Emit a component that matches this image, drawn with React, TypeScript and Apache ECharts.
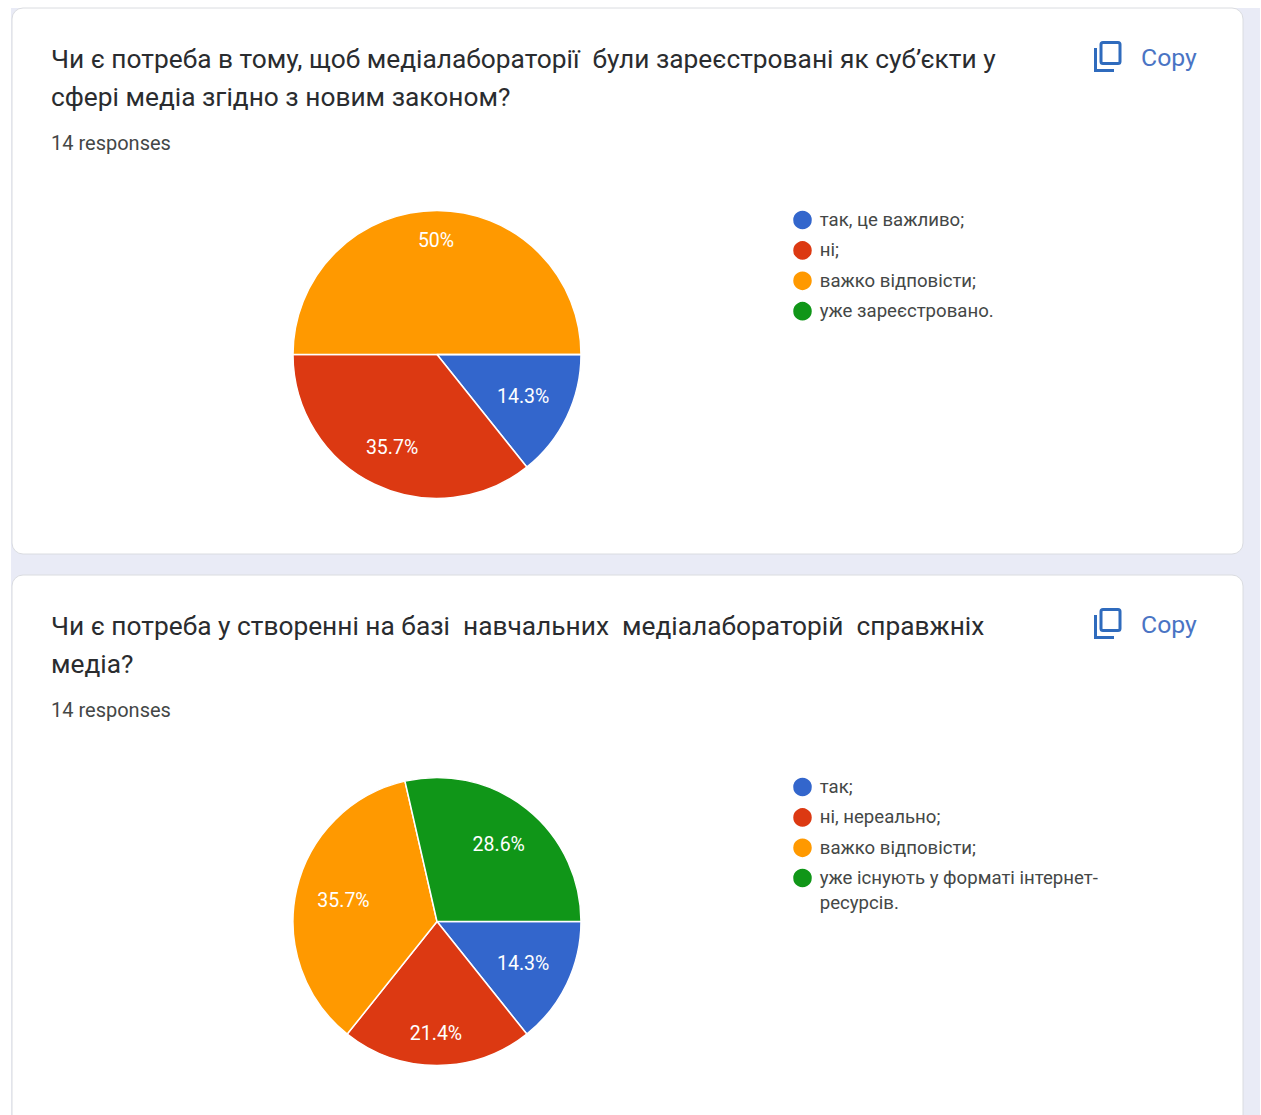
import React, { useEffect, useRef } from "react";
import * as echarts from "echarts";

const colors = ["#3366cc", "#dc3912", "#ff9900", "#109618"];
const title1 = "Чи є потреба в тому, щоб медіалабораторії  були зареєстровані як суб’єкти у\nсфері медіа згідно з новим законом?";
const title2 = "Чи є потреба у створенні на базі  навчальних  медіалабораторій  справжніх\nмедіа?";
const responses = "14 responses";
const copyLabel = "Copy";
const names1 = ["так, це важливо;", "ні;", "важко відповісти;", "уже зареєстровано."];
const names2 = ["так;", "ні, нереально;", "важко відповісти;", "уже існують у форматі інтернет-\nресурсів."];
const values1 = [2, 5, 7, 0];
const values2 = [2, 3, 5, 4];

const FONT = "Roboto, 'Noto Sans', sans-serif";
const radius = 144;
const centerX = 437;
const centerY1 = 354.5;
const centerY2 = 921.5;
const labelShift1 = [[-3, -1], [-2, 4], [-1, -15], [0, 0]];
const labelShift2 = [[-3, -1], [-1, 13], [3, 1], [0, 0]];

function toData(names: string[], values: number[]) {
  return names.map((name, i) => ({ name, value: values[i], itemStyle: { color: colors[i] } }));
}

function pieSeries(names: string[], values: number[], cy: number, shift: number[][]) {
  const base = {
    type: "pie",
    center: [centerX, cy],
    startAngle: 0,
    clockwise: true,
    silent: true,
    stillShowZeroSum: false,
    data: toData(names, values),
  };
  return [
    {
      ...base,
      radius: [0, radius],
      itemStyle: { borderColor: "#ffffff", borderWidth: 1.5 },
      label: { show: false },
      labelLine: { show: false },
    },
    {
      ...base,
      radius: [48, radius],
      data: names.map((name, i) => ({ name, value: values[i], itemStyle: { color: "transparent" } })),
      label: {
        show: true,
        position: "inside",
        color: "#ffffff",
        fontFamily: FONT,
        fontSize: 19.5,
        formatter: (p: any) => (p.value > 0 ? `${Math.round(p.percent * 10) / 10}%` : ""),
      },
      labelLayout: (p: any) => ({ dx: shift[p.dataIndex][0], dy: shift[p.dataIndex][1] }),
      labelLine: { show: false },
    },
  ];
}

function legend(names: string[], top: number) {
  return {
    orient: "vertical",
    left: 791.25,
    top,
    padding: 0,
    icon: "circle",
    itemWidth: 20.5,
    itemHeight: 20.5,
    itemGap: 5.4,
    selectedMode: false,
    data: names,
    formatter: (n: string) => (n.includes("\n") ? "\n" + n : n),
    textStyle: { color: "#444746", fontFamily: FONT, fontSize: 18.6, lineHeight: 25, padding: [0, 0, 0, 2] },
  };
}

function card(y: number, h: number) {
  return {
    type: "rect",
    shape: { x: 12, y, width: 1231, height: h, r: 11 },
    style: { fill: "#ffffff", stroke: "#dadce0", lineWidth: 1 },
  };
}

function text(x: number, y: number, t: string, fontSize: number, fill: string, lineHeight?: number) {
  return {
    type: "text",
    x,
    y,
    style: { text: t, fontSize, fontFamily: FONT, fill, lineHeight: lineHeight ?? fontSize, verticalAlign: "top" },
  };
}

function copyIcon(y: number) {
  const stroke = "#2f6bbd";
  return [
    {
      type: "rect",
      shape: { x: 1101, y: y + 0.5, width: 19, height: 21, r: 2 },
      style: { fill: "transparent", stroke, lineWidth: 3 },
    },
    {
      type: "polyline",
      shape: { points: [[1095.5, y + 6], [1095.5, y + 28.5], [1114, y + 28.5]] },
      style: { fill: "none", stroke, lineWidth: 3 },
    },
  ];
}

export default function App() {
  const ref = useRef<HTMLDivElement>(null);
  useEffect(() => {
    const chart = echarts.init(ref.current!, undefined, { renderer: "svg" });
    chart.setOption({
      animation: false,
      backgroundColor: "#ffffff",
      graphic: [
        { type: "rect", z: -10, shape: { x: 11, y: 8, width: 1249, height: 1107 }, style: { fill: "#e9ebf6" } },
        { ...card(8, 546), z: -9 },
        { ...card(575, 560), z: -9 },
        ...[
          text(51, 40, title1, 26.3, "#2a2c2f", 38),
          text(51, 607, title2, 26.3, "#2a2c2f", 38),
          text(51, 133, responses, 20, "#444746"),
          text(51, 700, responses, 20, "#444746"),
          text(1141, 45, copyLabel, 24.8, "#4a74c4"),
          text(1141, 612, copyLabel, 24.8, "#4a74c4"),
          ...copyIcon(42),
          ...copyIcon(609),
        ],
      ],
      legend: [
        legend(names1, 207.5),
        legend(names2.slice(0, 3), 774.5),
        legend(names2.slice(3), 840.5),
      ],
      series: [
        ...pieSeries(names1, values1, centerY1, labelShift1),
        ...pieSeries(names2, values2, centerY2, labelShift2),
      ],
    });
    return () => chart.dispose();
  }, []);
  return <div ref={ref} style={{ position: "absolute", left: 0, top: 0, width: 1261, height: 1115 }} />;
}
